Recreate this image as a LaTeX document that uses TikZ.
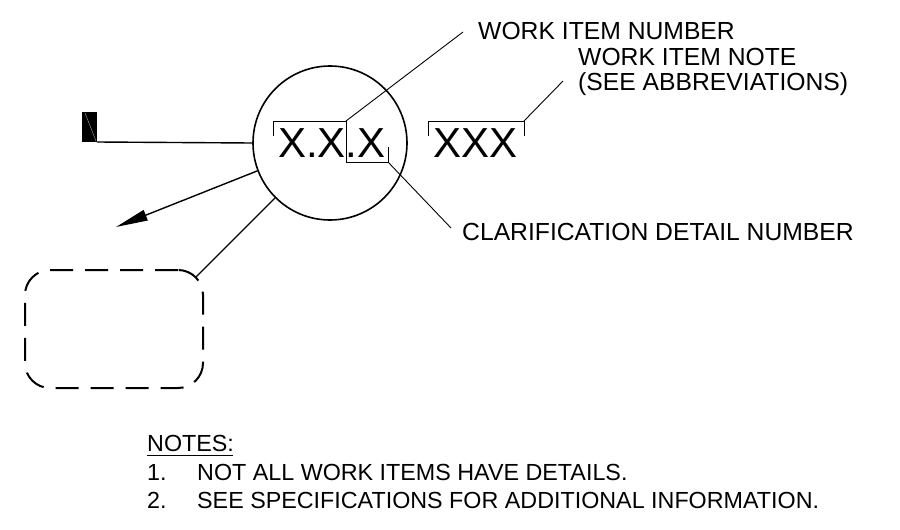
\documentclass[tikz,border=0pt]{standalone}
\usepackage{fontspec}
\setmainfont{Liberation Sans}
\usetikzlibrary{arrows.meta}
\begin{document}
\begin{tikzpicture}[x=1pt,y=-1pt,
  mainline/.style={line width=1.4pt},
  thinline/.style={line width=0.9pt},
  label/.style={anchor=base west,inner sep=0pt,font=\fontsize{24.7}{25}\selectfont},
  notetext/.style={anchor=base west,inner sep=0pt,font=\fontsize{23.3}{28}\selectfont},
  bigtext/.style={anchor=base west,inner sep=0pt,font=\fontsize{42}{42}\selectfont}]
\useasboundingbox (0,0) rectangle (900,530);
% bubble
\node[circle,draw,line width=1.6pt,minimum size=154pt,inner sep=0pt] (c) at (330,143) {};
% flag
\node[fill=black,minimum width=15pt,minimum height=30pt,inner sep=0pt] (flag) at (89.5,127) {};
\draw[gray!45,line width=0.3pt] (85,113) -- (96,141);
\draw[mainline] (97,142) -- (c.180);
% arrow
\coordinate (tip) at (116,227);
\draw[mainline,-{Triangle[length=32pt,width=11pt]}] (c.201) -- (tip);
% dashed detail box
\node[draw,dash pattern=on 23pt off 12pt,line width=2pt,rounded corners=25pt,
  minimum width=178pt,minimum height=118pt,inner sep=0pt] (box) at (114,329) {};
\coordinate (boxtip) at (195.5,277.5);
\draw[mainline] (c.225) -- (boxtip);
% texts in bubble
\node[bigtext] (num) at (278,157) {X.X.X};
\node[bigtext] (xxx) at (433,157) {XXX};
% brackets
\coordinate (wn) at (346,121);
\coordinate (cd) at (388,162);
\coordinate (xn) at (524,121);
\draw[thinline] (273,136) -- (273,121) -- (wn) -- (346,162) -- (cd) -- (388,147);
\draw[thinline] (428,136) -- (428,121) -- (xn) -- (524,136);
% labels
\node[label] (lwn) at (478,39) {WORK ITEM NUMBER};
\node[label,align=left] (lnote) at (578,90) {WORK ITEM NOTE\\(SEE ABBREVIATIONS)};
\node[label] (lcd) at (462,240) {CLARIFICATION DETAIL NUMBER};
\coordinate (lwnend) at (463,32);
\coordinate (lnoteend) at (563,81);
\coordinate (lcdend) at (451,228);
\draw[thinline] (wn) -- (lwnend);
\draw[thinline] (xn) -- (lnoteend);
\draw[thinline] (cd) -- (lcdend);
% notes
\node[notetext] (notes) at (147,451) {NOTES:};
\draw[line width=1pt] (147,455) -- (233,455);
\node[notetext] (n1) at (147,480) {1.};
\node[notetext] (t1) at (197,480) {NOT ALL WORK ITEMS HAVE DETAILS.};
\node[notetext] (n2) at (147,508) {2.};
\node[notetext] (t2) at (197,508) {SEE SPECIFICATIONS FOR ADDITIONAL INFORMATION.};
\end{tikzpicture}
\end{document}
